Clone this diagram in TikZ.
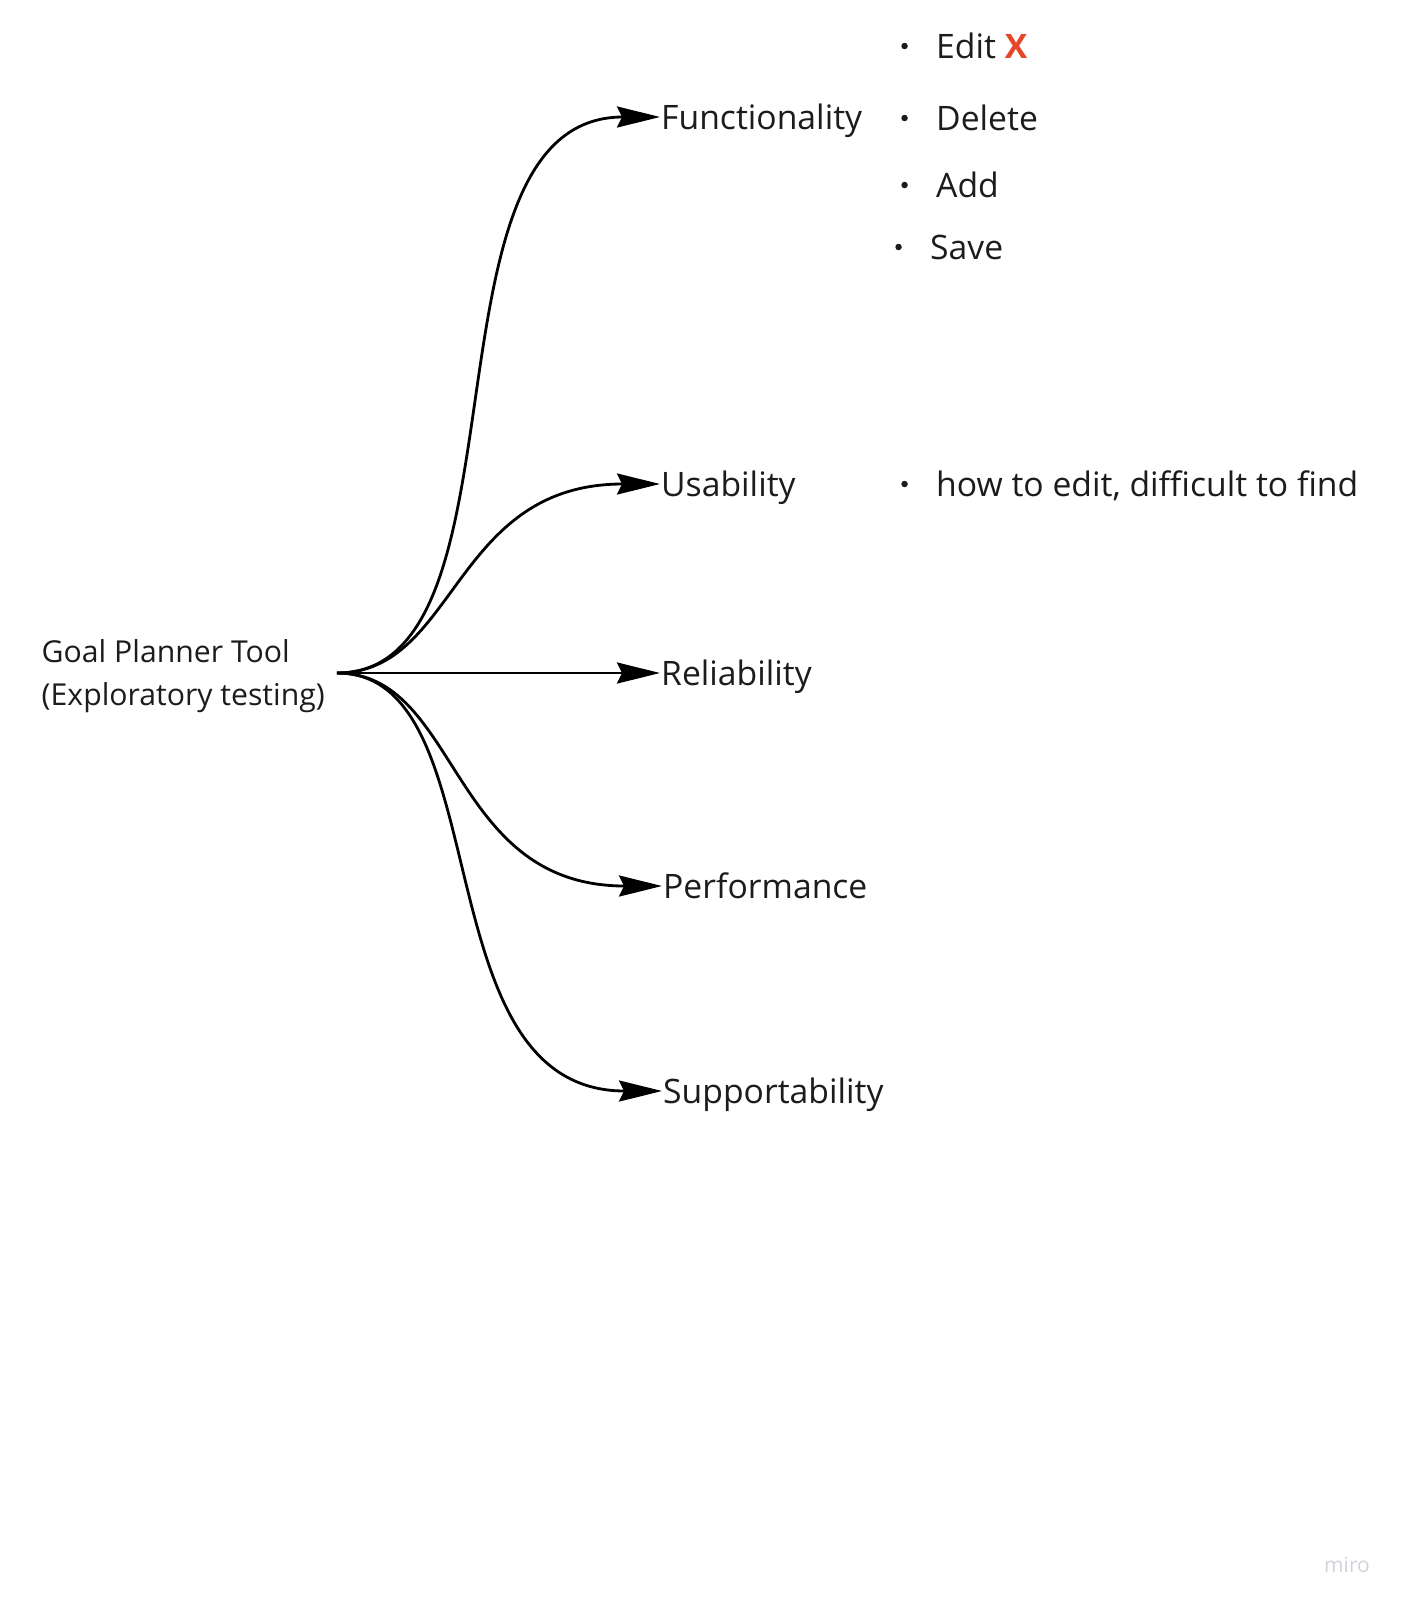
\documentclass[tikz,border=0pt]{standalone}
\usepackage{fontspec}
\setmainfont{Open Sans}
\usepackage{xcolor}
\usepackage{tikz}
\definecolor{inkgray}{HTML}{1C1C1C}
\definecolor{crossred}{HTML}{E6472B}
\definecolor{mirogray}{HTML}{D2D2DA}
\usetikzlibrary{arrows.meta, positioning}

\begin{document}
\begin{tikzpicture}[x=1pt, y=-1pt,
    branch/.style={line width=2.8pt, -{Stealth[length=43pt, width=21pt, inset=5pt]}},
    topic/.style={anchor=west, inner sep=1pt, text height=24pt, text depth=0pt, font=\fontsize{33.7}{40}\selectfont, text=inkgray},
    bulletdot/.style={circle, fill=inkgray, inner sep=0pt, minimum size=6.5pt}]
    \useasboundingbox (0,0) rectangle (1402,1604);

    % root
    \node[anchor=east, align=left, inner xsep=12pt, font=\fontsize{30.2}{43}\selectfont, text=inkgray] (goal) at (337,676) {Goal Planner Tool\\(Exploratory testing)};

    % branches
    \node[topic] (func) at (660,117) {Functionality};
    \node[topic] (usab) at (660,484) {Usability};
    \node[topic] (reli) at (660,673) {Reliability};
    \node[topic] (perf) at (662,886) {Performance};
    \node[topic] (supp) at (662,1091) {Supportability};

    \coordinate (hub) at (goal.east |- reli.west);

    \draw[branch] (hub) to[out=0, in=180, out distance=200pt, in distance=248pt] (func.west);
    \draw[branch] (hub) to[out=0, in=180, out distance=120pt, in distance=208pt] (usab.west);
    \draw[branch] (hub) -- (reli.west);
    \draw[branch] (hub) to[out=0, in=180, out distance=123pt, in distance=214pt] (perf.west);
    \draw[branch] (hub) to[out=0, in=180, out distance=165pt, in distance=243pt] (supp.west);

    % notes
    \node[topic] (edit) at (935,46) {Edit \textcolor{crossred}{\textbf{X}}};
    \node[topic] (delete) at (935,118) {Delete};
    \node[topic] (add) at (935,185) {Add};
    \node[topic] (save) at (929,247) {Save};
    \node[topic] (hint) at (935,484) {how to edit, difficult to find};

    \node[bulletdot, left=27pt of edit] (dot1) {};
    \node[bulletdot, left=27pt of delete] (dot2) {};
    \node[bulletdot, left=27pt of add] (dot3) {};
    \node[bulletdot, left=27pt of save] (dot4) {};
    \node[bulletdot, left=27pt of hint] (dot5) {};

    \node[font=\fontsize{21}{24}\selectfont, text=mirogray] (miro) at (1347,1565) {miro};
\end{tikzpicture}
\end{document}
